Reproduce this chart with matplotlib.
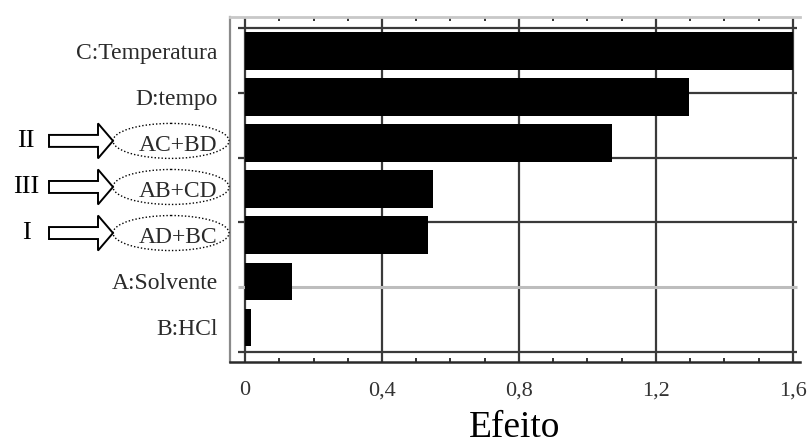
import matplotlib
matplotlib.use("Agg")
import matplotlib.pyplot as plt
import numpy as np
from matplotlib import transforms
from matplotlib.patches import Ellipse, Polygon
from matplotlib.ticker import MultipleLocator

# Effects, top to bottom
categories = ["C:Temperatura", "D:tempo", "AC+BD", "AB+CD", "AD+BC", "A:Solvente", "B:HCl"]
effects = [1.60, 1.296, 1.072, 0.549, 0.534, 0.137, 0.018]
xticks = [0, 0.4, 0.8, 1.2, 1.6]
xtick_labels = ["0", "0,4", "0,8", "1,2", "1,6"]
# Highlighted interactions and their roman-numeral tags
highlight = {"AC+BD": "II", "AB+CD": "III", "AD+BC": "I"}

serif = "Liberation Serif"
plt.rcParams["font.family"] = [serif, "DejaVu Serif"]

fig = plt.figure(figsize=(8.08, 4.45), dpi=100)
ax = fig.add_axes([0.2847, 0.1865, 0.7054, 0.7753])

ypos = np.arange(len(categories))
ax.barh(ypos, effects, height=0.82, color="black", zorder=3)

ax.set_xlim(-0.044, 1.621)
ax.set_ylim(6.75, -0.74)

# grid: vertical at major ticks, horizontal evenly spaced
for xv in xticks:
    ax.axvline(xv, color="#3a3a3a", lw=1.6, zorder=2)
hgrid = np.linspace(-0.5, 6.53, 6)
for i, yv in enumerate(hgrid):
    col = "#bdbdbd" if i == 4 else "#3a3a3a"
    ax.plot([-0.022, 1.612], [yv, yv], color=col, lw=1.6 if i != 4 else 2.2,
            zorder=2, solid_capstyle="butt")

ax.set_xticks(xticks)
ax.set_xticklabels(xtick_labels, fontsize=16, color="#333333")
ax.xaxis.set_minor_locator(MultipleLocator(0.1))
ax.tick_params(axis="x", which="both", direction="in", top=True, bottom=True,
               color="#222222", width=1.3)
ax.tick_params(axis="x", which="major", length=7, pad=14)
ax.tick_params(axis="x", which="minor", length=3)

ax.set_yticks(ypos)
ax.set_yticklabels(categories, fontsize=17, color="#2a2a2a")
ax.tick_params(axis="y", length=0, pad=9)

ax.spines["right"].set_visible(False)
ax.spines["top"].set_color("#c8c8c8")
ax.spines["top"].set_linewidth(2.0)
ax.spines["left"].set_color("#8a8a8a")
ax.spines["left"].set_linewidth(1.6)
ax.spines["bottom"].set_color("#2a2a2a")
ax.spines["bottom"].set_linewidth(1.8)

ax.set_xlabel("Efeito", fontsize=27, color="black", labelpad=7)

# annotations left of the labels: x in figure fraction, y in data units
trans = transforms.blended_transform_factory(fig.transFigure, ax.transData)
W = 808.0
for name, tag in highlight.items():
    y = categories.index(name) - 0.05
    ax.add_patch(Ellipse((171 / W, y), 116 / W, 0.76, transform=trans,
                         fill=False, ec="black", lw=1.0, ls=(0, (1, 1.5)),
                         clip_on=False, zorder=5))
    x0, x1, xt = 49 / W, 98 / W, 113 / W
    hs, hh = 0.13, 0.38
    pts = [(x0, y - hs), (x1, y - hs), (x1, y - hh), (xt, y),
           (x1, y + hh), (x1, y + hs), (x0, y + hs)]
    ax.add_patch(Polygon(pts, closed=True, transform=trans, fill=False,
                         ec="black", lw=1.4, joinstyle="miter",
                         clip_on=False, zorder=5))
    ax.text(26 / W, y, tag, transform=trans, ha="center", va="center",
            fontsize=19, color="black", clip_on=False)

fig.savefig("out.png", dpi=100)
